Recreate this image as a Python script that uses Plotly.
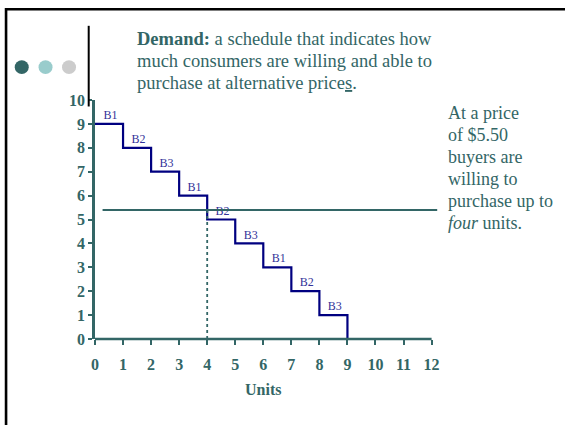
import plotly.graph_objects as go

# demand schedule (price per unit for each successive unit bought)
units = [1, 2, 3, 4, 5, 6, 7, 8, 9]
prices = [9, 8, 7, 6, 5, 4, 3, 2, 1]
buyers = ["B1", "B2", "B3", "B1", "B2", "B3", "B1", "B2", "B3"]

price_line = 5.4          # drawn price line ($5.50)
price_span = [0.27, 12.2]  # horizontal extent of the price line
qty_demanded = 4

x_ticks = list(range(0, 13))
y_ticks = list(range(0, 11))

title_lines = [
    "<b>Demand:</b> a schedule that indicates how",
    "much consumers are willing and able to",
    "purchase at alternative price<u>s</u>.",
]
note_lines = [
    "At a price", "of $5.50", "buyers are", "willing to",
    "purchase up to", "<i>four</i> units.",
]

TEAL = "#336666"
NAVY = "#000080"
SERIF = "Times New Roman, Liberation Serif, serif"

# plot area in pixels (used to place the slide decorations)
L, R, T, B = 95, 440.2, 99.5, 339.5


def px(x):
    return (x - L) / (R - L)


def py(y):
    return (B - y) / (B - T)


fig = go.Figure()

# staircase demand curve
fig.add_trace(go.Scatter(
    x=[0] + units, y=prices + [0],
    mode="lines", line=dict(color=NAVY, width=2.2, shape="hv"),
    hoverinfo="skip", showlegend=False
))

# buyer labels over each step
fig.add_trace(go.Scatter(
    x=[u - 0.45 for u in units], y=[p + 0.33 for p in prices],
    mode="text", text=buyers,
    textfont=dict(family=SERIF, size=12, color="#333399"),
    hoverinfo="skip", showlegend=False
))

# price line
fig.add_trace(go.Scatter(
    x=price_span, y=[price_line, price_line],
    mode="lines", line=dict(color=TEAL, width=2),
    hoverinfo="skip", showlegend=False
))

# quantity demanded
fig.add_trace(go.Scatter(
    x=[qty_demanded, qty_demanded], y=[0, price_line],
    mode="lines", line=dict(color=TEAL, width=1.8, dash="dot"),
    hoverinfo="skip", showlegend=False
))

shapes = [
    # x axis line 0..12
    dict(type="line", xref="x", yref="paper", x0=0, x1=12, y0=0, y1=0,
         line=dict(color=TEAL, width=2.5)),
    # slide frame
    dict(type="line", xref="paper", yref="paper", x0=px(5), x1=px(570),
         y0=py(8.3), y1=py(8.3), line=dict(color="black", width=2.6)),
    dict(type="line", xref="paper", yref="paper", x0=px(6), x1=px(6),
         y0=py(7), y1=py(430), line=dict(color="black", width=2.6)),
    # vertical divider
    dict(type="line", xref="paper", yref="paper", x0=px(88.7), x1=px(88.7),
         y0=py(25), y1=py(106), line=dict(color="black", width=2)),
]
for cx, col in [(21.7, "#336666"), (45.5, "#99CCCC"), (69.0, "#CCCCCC")]:
    shapes.append(dict(type="circle", xref="paper", yref="paper",
                       x0=px(cx - 7), x1=px(cx + 7), y0=py(66.5 - 7), y1=py(66.5 + 7),
                       fillcolor=col, line=dict(width=0)))

annotations = []
for i, line in enumerate(title_lines):
    annotations.append(dict(
        xref="paper", yref="paper", x=px(135), y=py(38 + 22 * i),
        xanchor="left", yanchor="middle", align="left", showarrow=False,
        font=dict(family=SERIF, size=18.5, color=TEAL), text=line))
for i, line in enumerate(note_lines):
    annotations.append(dict(
        xref="paper", yref="paper", x=px(446), y=py(113 + 22 * i),
        xanchor="left", yanchor="middle", align="left", showarrow=False,
        font=dict(family=SERIF, size=18, color=TEAL), text=line))
annotations.append(dict(
    xref="x", yref="paper", x=6, y=py(390), xanchor="center", yanchor="middle",
    showarrow=False, font=dict(family=SERIF, size=16, color=TEAL),
    text="<b>Units</b>"))

fig.update_layout(
    width=565, height=425,
    margin=dict(l=L, r=565 - R, t=T, b=425 - B, pad=0),
    paper_bgcolor="white", plot_bgcolor="white",
    shapes=shapes, annotations=annotations,
    showlegend=False,
)
fig.update_xaxes(
    range=[0, 12.3], tickvals=x_ticks, ticks="outside", ticklen=5, tickwidth=2,
    tickcolor=TEAL, showline=False, showgrid=False, zeroline=False,
    ticklabelstandoff=6,
    tickfont=dict(family=SERIF, size=16, color=TEAL, weight="bold"),
)
fig.update_yaxes(
    range=[0, 10], tickvals=y_ticks, ticks="outside", ticklen=4, tickwidth=2,
    tickcolor=TEAL, showline=True, linecolor=TEAL, linewidth=2.5,
    showgrid=False, zeroline=False,
    tickfont=dict(family=SERIF, size=16, color=TEAL, weight="bold"),
)

# the slide fills the whole window, so drop the page margin
fig.write_html("out.html", config={"displayModeBar": False},
               post_script="document.body.style.margin = '0';")
